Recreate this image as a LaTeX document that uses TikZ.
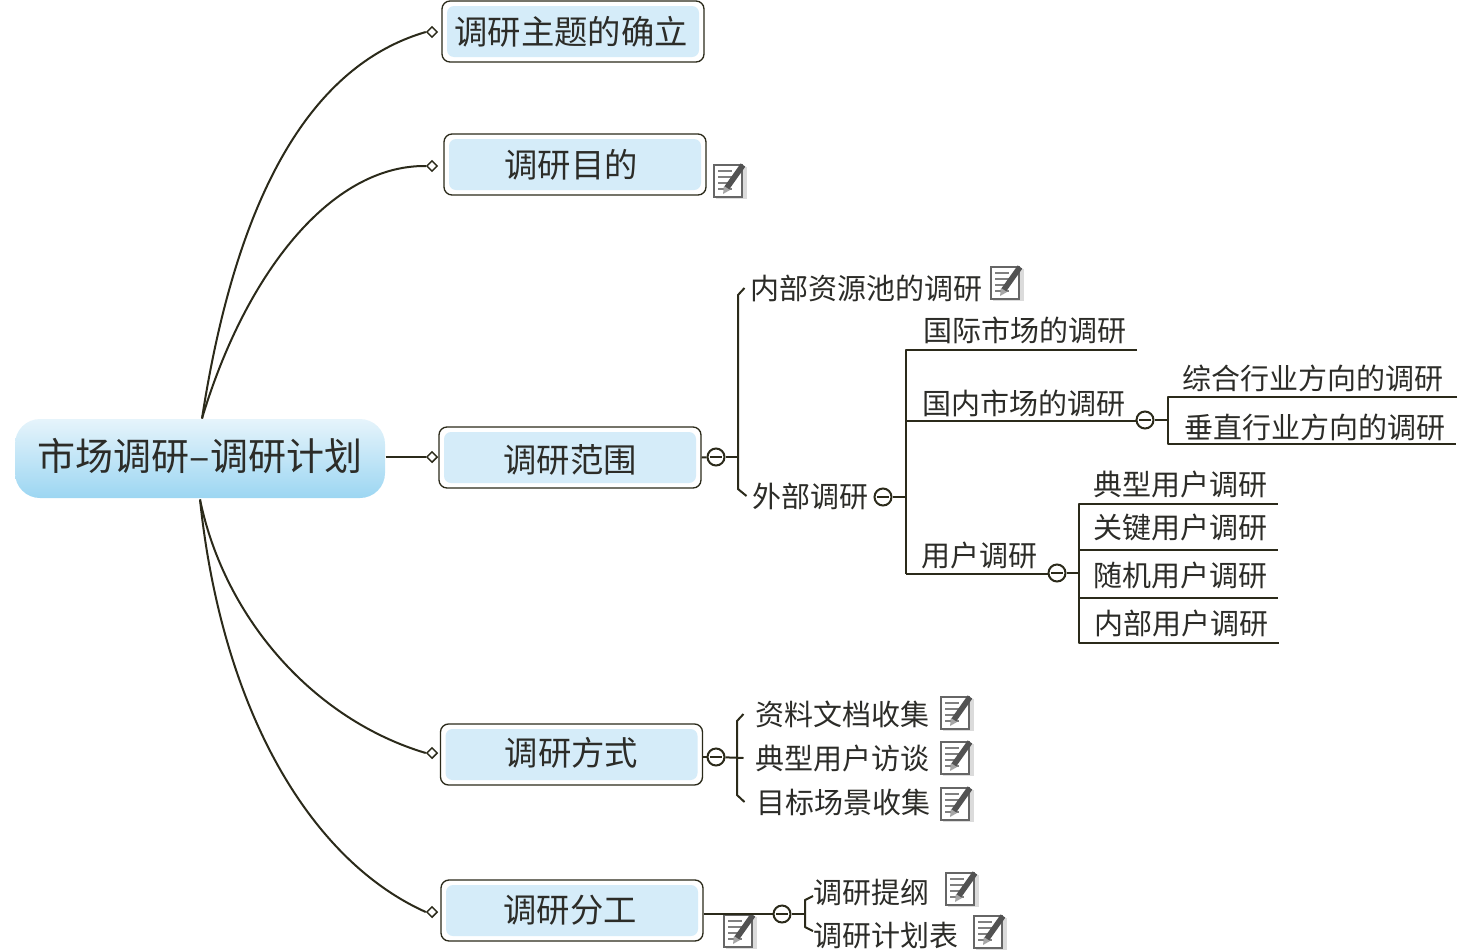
\documentclass[tikz,border=0pt]{standalone}
\usepackage{fontspec}
\setmainfont{Noto Sans CJK SC}
\usetikzlibrary{calc,shapes.geometric}
\newcommand{\px}{0.75pt}
\definecolor{linecol}{HTML}{2B2A1A}
\definecolor{textcol}{HTML}{2C2C28}
\definecolor{topicfill}{HTML}{D5ECF9}
\definecolor{rootlight}{HTML}{E6F4FB}
\definecolor{rootdark}{HTML}{9CD6F2}
\tikzset{every picture/.style={line width=0.75pt},
  rootbox/.style={rounded corners=25*\px,minimum width=370*\px,minimum height=79*\px,inner sep=0pt,
    top color=rootlight,bottom color=rootdark,text=textcol,font=\fontsize{28.5}{30}\selectfont,text height=25pt,text depth=6.5pt},
  topicbox/.style={draw=linecol,fill=white,line width=1pt,rounded corners=8*\px,minimum width=262*\px,minimum height=61*\px,
    inner sep=0pt,text=textcol,font=\fontsize{25}{28}\selectfont,text height=22pt,text depth=3pt,
    path picture={\fill[topicfill,rounded corners=7*\px] ([shift={(5,-5)}]path picture bounding box.north west) rectangle ([shift={(-5,5)}]path picture bounding box.south east);}},
  item/.style={inner xsep=5*\px,inner ysep=0pt,text=textcol,font=\fontsize{21.75}{24}\selectfont},
  leaf/.style={item,inner xsep=10*\px,minimum height=2*#1*\px},
  leaf/.default=19,
  collapse/.style={circle,draw=linecol,fill=white,line width=1.5pt,minimum size=17*\px,inner sep=0pt,
    path picture={\draw[linecol,line width=1.5pt] ([xshift=-6*\px]path picture bounding box.center) -- ([xshift=6*\px]path picture bounding box.center);}},
  tipmark/.style={diamond,draw=linecol,fill=white,line width=1.1pt,minimum size=11*\px,inner sep=0pt},
  branch/.style={draw=linecol,line width=1.5pt,line join=round},
  noteicon/.pic={
    \fill[black!14] (-13,13) rectangle (18,-19);
    \draw[black!60,fill=white,line width=1.9pt] (-15,15) rectangle (13,-17);
    \foreach \yy in {9,3,-3,-9} \draw[black!50,line width=1.5pt] (-11,\yy) -- (3,\yy);
    \draw[black!68,line width=4.2pt] (-3,-9) -- (14,15);
    \fill[black!35] (-6,-14) -- (-5,-6) -- (1,-10) -- cycle;
  }}

\begin{document}
\begin{tikzpicture}[x=0.75pt,y=0.75pt,yscale=-1,xscale=1]
\useasboundingbox (0,0) rectangle (1458,950);
% Root and topics
\node[rootbox] (root) at (200,458.5) {市场调研–调研计划};
\node[topicbox] (theme) at (573,31.5) {\kern-3pt 调研主题的确立};
\node[topicbox] (goal) at (575,164.5) {\kern-6pt 调研目的};
\node[topicbox,text height=25pt] (scope) at (570,457.5) {调研范围};
\node[topicbox,text depth=6pt] (method) at (571.5,754.5) {调研方式};
\node[topicbox,text depth=4.5pt] (work) at (572,910.5) {\kern-3pt 调研分工};
% Curves from root
\node[tipmark] (themetip) at (432,32) {};
\node[tipmark] (goaltip) at (432,166) {};
\node[tipmark] (scopetip) at (432,457) {};
\node[tipmark] (methodtip) at (432,753) {};
\node[tipmark] (worktip) at (432,912) {};
\draw[branch] (root.north) ++(2,0) .. controls (242,160) and (330,60) .. (themetip.west);
\draw[branch] (root.north) ++(2,0) .. controls (245,275) and (330,165) .. (goaltip.west);
\draw[branch] (root.east |- scopetip) -- (scopetip.west);
\draw[branch] (root.south) ++(0,1) .. controls (225,620) and (315,720) .. (methodtip.west);
\draw[branch] (root.south) ++(0,1) .. controls (222,710) and (310,860) .. (worktip.west);
% Scope: first level
\node[collapse] (scopefold) at (716,457) {};
\coordinate (scopetrunk) at (738,457);
\node[item] (internal) at (866,288) {内部资源池的调研};
\node[item] (external) at (810,496) {外部调研};
\draw[branch] (scope.east) -- (scopefold);
\draw[branch] (scopefold) -- (scopetrunk);
\draw[branch] (internal.west) -- ($(internal.west -| scopetrunk)+(0,7)$) -- ($(external.west -| scopetrunk)+(0,-7)$) -- (external.west);
% External research
\node[collapse] (extfold) at (883,497) {};
\coordinate (exttrunk) at (906,497);
\node[leaf] (intl) at (1025,330) {国际市场的调研};
\node[leaf=17] (home) at (1024,403) {国内市场的调研};
\node[leaf=18] (users) at (979,555) {用户调研};
\draw[branch] (extfold) -- (exttrunk);
\draw[branch] (intl.south east) -- (exttrunk |- intl.south) -- (exttrunk |- users.south);
\draw[branch] (exttrunk |- home.south) -- (home.south east);
\draw[branch] (exttrunk |- users.south) -- (users.south east);
% Domestic market
\node[collapse] (homefold) at (1145,420) {};
\coordinate (hometrunk) at (1168,420);
\node[leaf=18,inner xsep=13*\px] (general) at (1313,378) {综合行业方向的调研};
\node[leaf=16] (vertical) at (1315,427) {垂直行业方向的调研};
\draw[branch] (home.south east) -- (homefold);
\draw[branch] (homefold) -- (hometrunk);
\draw[branch] (general.south east) -- (hometrunk |- general.south) -- (hometrunk |- vertical.south) -- (vertical.south east);
% Users
\node[collapse] (usersfold) at (1057,573) {};
\coordinate (userstrunk) at (1079,573);
\node[leaf] (typical) at (1180,484) {典型用户调研};
\node[leaf=22] (keyuser) at (1180,527) {关键用户调研};
\node[leaf=22] (random) at (1180,575) {随机用户调研};
\node[leaf] (inner) at (1181,623) {内部用户调研};
\draw[branch] (users.south east) -- (usersfold);
\draw[branch] (usersfold) -- (userstrunk);
\draw[branch] (typical.south east) -- (userstrunk |- typical.south) -- (userstrunk |- inner.south) -- (inner.south east);
\draw[branch] (userstrunk |- keyuser.south) -- (keyuser.south east);
\draw[branch] (userstrunk |- random.south) -- (random.south east);
% Method
\node[collapse] (methodfold) at (716,757) {};
\coordinate (methodtrunk) at (737,757);
\node[item,inner xsep=11*\px] (docs) at (842,714) {资料文档收集};
\node[item,inner xsep=11*\px] (talks) at (842,758) {典型用户访谈};
\node[item,inner xsep=11*\px] (scenes) at (843,802) {目标场景收集};
\draw[branch] (method.east |- methodfold) -- (methodfold);
\draw[branch] (methodfold) -- (talks.west);
\draw[branch] (docs.west) -- ($(docs.west -| methodtrunk)+(0,7)$) -- ($(scenes.west -| methodtrunk)+(0,-7)$) -- (scenes.west);
% Work
\path (739,930) pic {noteicon};
\node[collapse] (workfold) at (782,914) {};
\coordinate (worktrunk) at (805,914);
\coordinate (outlinetip) at (813,896);
\coordinate (plantip) at (813,931);
\node[item] (outline) at (871,892) {调研提纲};
\node[item] (plan) at (886,936) {调研计划表};
\draw[branch] (work.east |- workfold) -- (workfold);
\draw[branch] (workfold) -- (worktrunk);
\draw[branch] (outlinetip) -- ($(outlinetip -| worktrunk)+(0,4)$) -- ($(plantip -| worktrunk)+(0,-4)$) -- (plantip);
% Note icons
\path (729,180) pic {noteicon};
\path (1006,282) pic {noteicon};
\path (956,712) pic {noteicon};
\path (956,757) pic {noteicon};
\path (956,803) pic {noteicon};
\path (961,888) pic {noteicon};
\path (989,931) pic {noteicon};
\end{tikzpicture}
\end{document}
